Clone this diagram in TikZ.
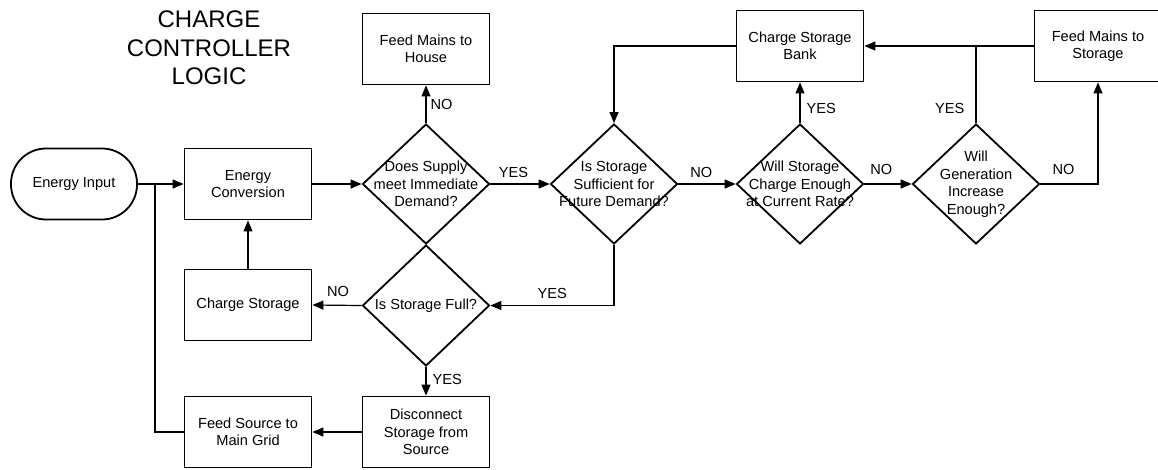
\documentclass[tikz,border=0pt]{standalone}
\usepackage{fontspec}
\setmainfont{Liberation Sans}
\usetikzlibrary{shapes.geometric,arrows.meta}
\begin{document}
\begin{tikzpicture}[x=1pt,y=-1pt,
  base/.style={font=\fontsize{14.6}{17.5}\selectfont, align=center},
  proc/.style={base, draw, line width=1.8pt, minimum width=127pt, minimum height=71pt, inner sep=0pt},
  dec/.style={draw, shape=diamond, line width=1.8pt, minimum width=127pt, minimum height=120pt, inner sep=0pt},
  term/.style={base, draw, line width=1.8pt, rounded corners=35pt, minimum width=126pt, minimum height=71pt, inner sep=0pt},
  flow/.style={line width=1.2pt, -{Triangle[length=11pt,width=9pt]}},
  wire/.style={line width=1.2pt},
  tag/.style={base, inner sep=0pt},
]
% canvas
\fill[white] (0,0) rectangle (1158,469);
\useasboundingbox (0,0) rectangle (1158,469);

% title
\node[font=\fontsize{24}{28.5}\selectfont, align=center] (title) at (209,48) {CHARGE\\CONTROLLER\\LOGIC};

% nodes
\node[term] (in)   at (74,184)   {Energy Input};
\node[proc] (conv) at (248,184)  {Energy\\Conversion};
\node[proc] (cs)   at (248,305)  {Charge Storage};
\node[proc] (fsg)  at (248,432)  {Feed Source to\\Main Grid};
\node[proc] (fmh)  at (426,49)   {Feed Mains to\\House};
\node[proc] (dss)  at (426,432)  {Disconnect\\Storage from\\Source};
\node[proc] (csb)  at (800,46)   {Charge Storage\\Bank};
\node[proc] (fms)  at (1098,46)  {Feed Mains to\\Storage};

\node[dec, label={[base]center:{Does Supply\\meet Immediate\\Demand?}}] (d1) at (426,184) {};
\node[dec, label={[base]center:{Is Storage\\Sufficient for\\Future Demand?}}] (d2) at (614,184) {};
\node[dec, label={[base]center:{Will Storage\\Charge Enough\\at Current Rate?}}] (d3) at (800,184) {};
\node[dec, label={[base]center:{Will\\Generation\\Increase\\Enough?}}] (d4) at (976,184) {};
\node[dec, minimum height=121pt, label={[base]center:{Is Storage Full?}}] (d5) at (426,305.5) {};

% junction points
\coordinate (j1) at (155,184);
\coordinate (j2) at (d4.north |- fms.west);

% connectors
\draw[flow] (in) -- (conv);
\draw[wire] (fsg.west) -| (j1);
\draw[flow] (conv) -- (d1.west);
\draw[flow] (cs) -- (conv);
\draw[flow] (d1.north) -- node[tag, pos=0.5, right=4pt] {NO} (fmh.south);
\draw[flow] (d1.east) -- node[tag, pos=0.39, above=6pt] {YES} (d2.west);
\draw[flow] (d2.east) -- node[tag, pos=0.4, above=6pt] {NO} (d3.west);
\draw[flow] (d2.south) |- node[tag, pos=0.75, above=6pt] {YES} (d5.east);
\draw[flow] (d5.west) -- node[tag, pos=0.48, above=8pt] {NO} (cs.east);
\draw[flow] (d5.south) -- node[tag, pos=0.45, right=6pt] {YES} (dss.north);
\draw[flow] (dss.west) -- (fsg.east);
\draw[flow] (d3.north) -- node[tag, pos=0.35, right=6pt] {YES} (csb.south);
\draw[flow] (d3.east) -- node[tag, pos=0.36, above=9pt] {NO} (d4.west);
\draw[wire] (d4.north) -- node[tag, pos=0.19, left=11pt] {YES} (j2);
\draw[flow] (fms.west) -- (csb.east);
\draw[flow] (d4.east) -| node[tag, pos=0.2, above=9pt] {NO} (fms.south);
\draw[flow] (csb.west) -| (d2.north);
\end{tikzpicture}
\end{document}
